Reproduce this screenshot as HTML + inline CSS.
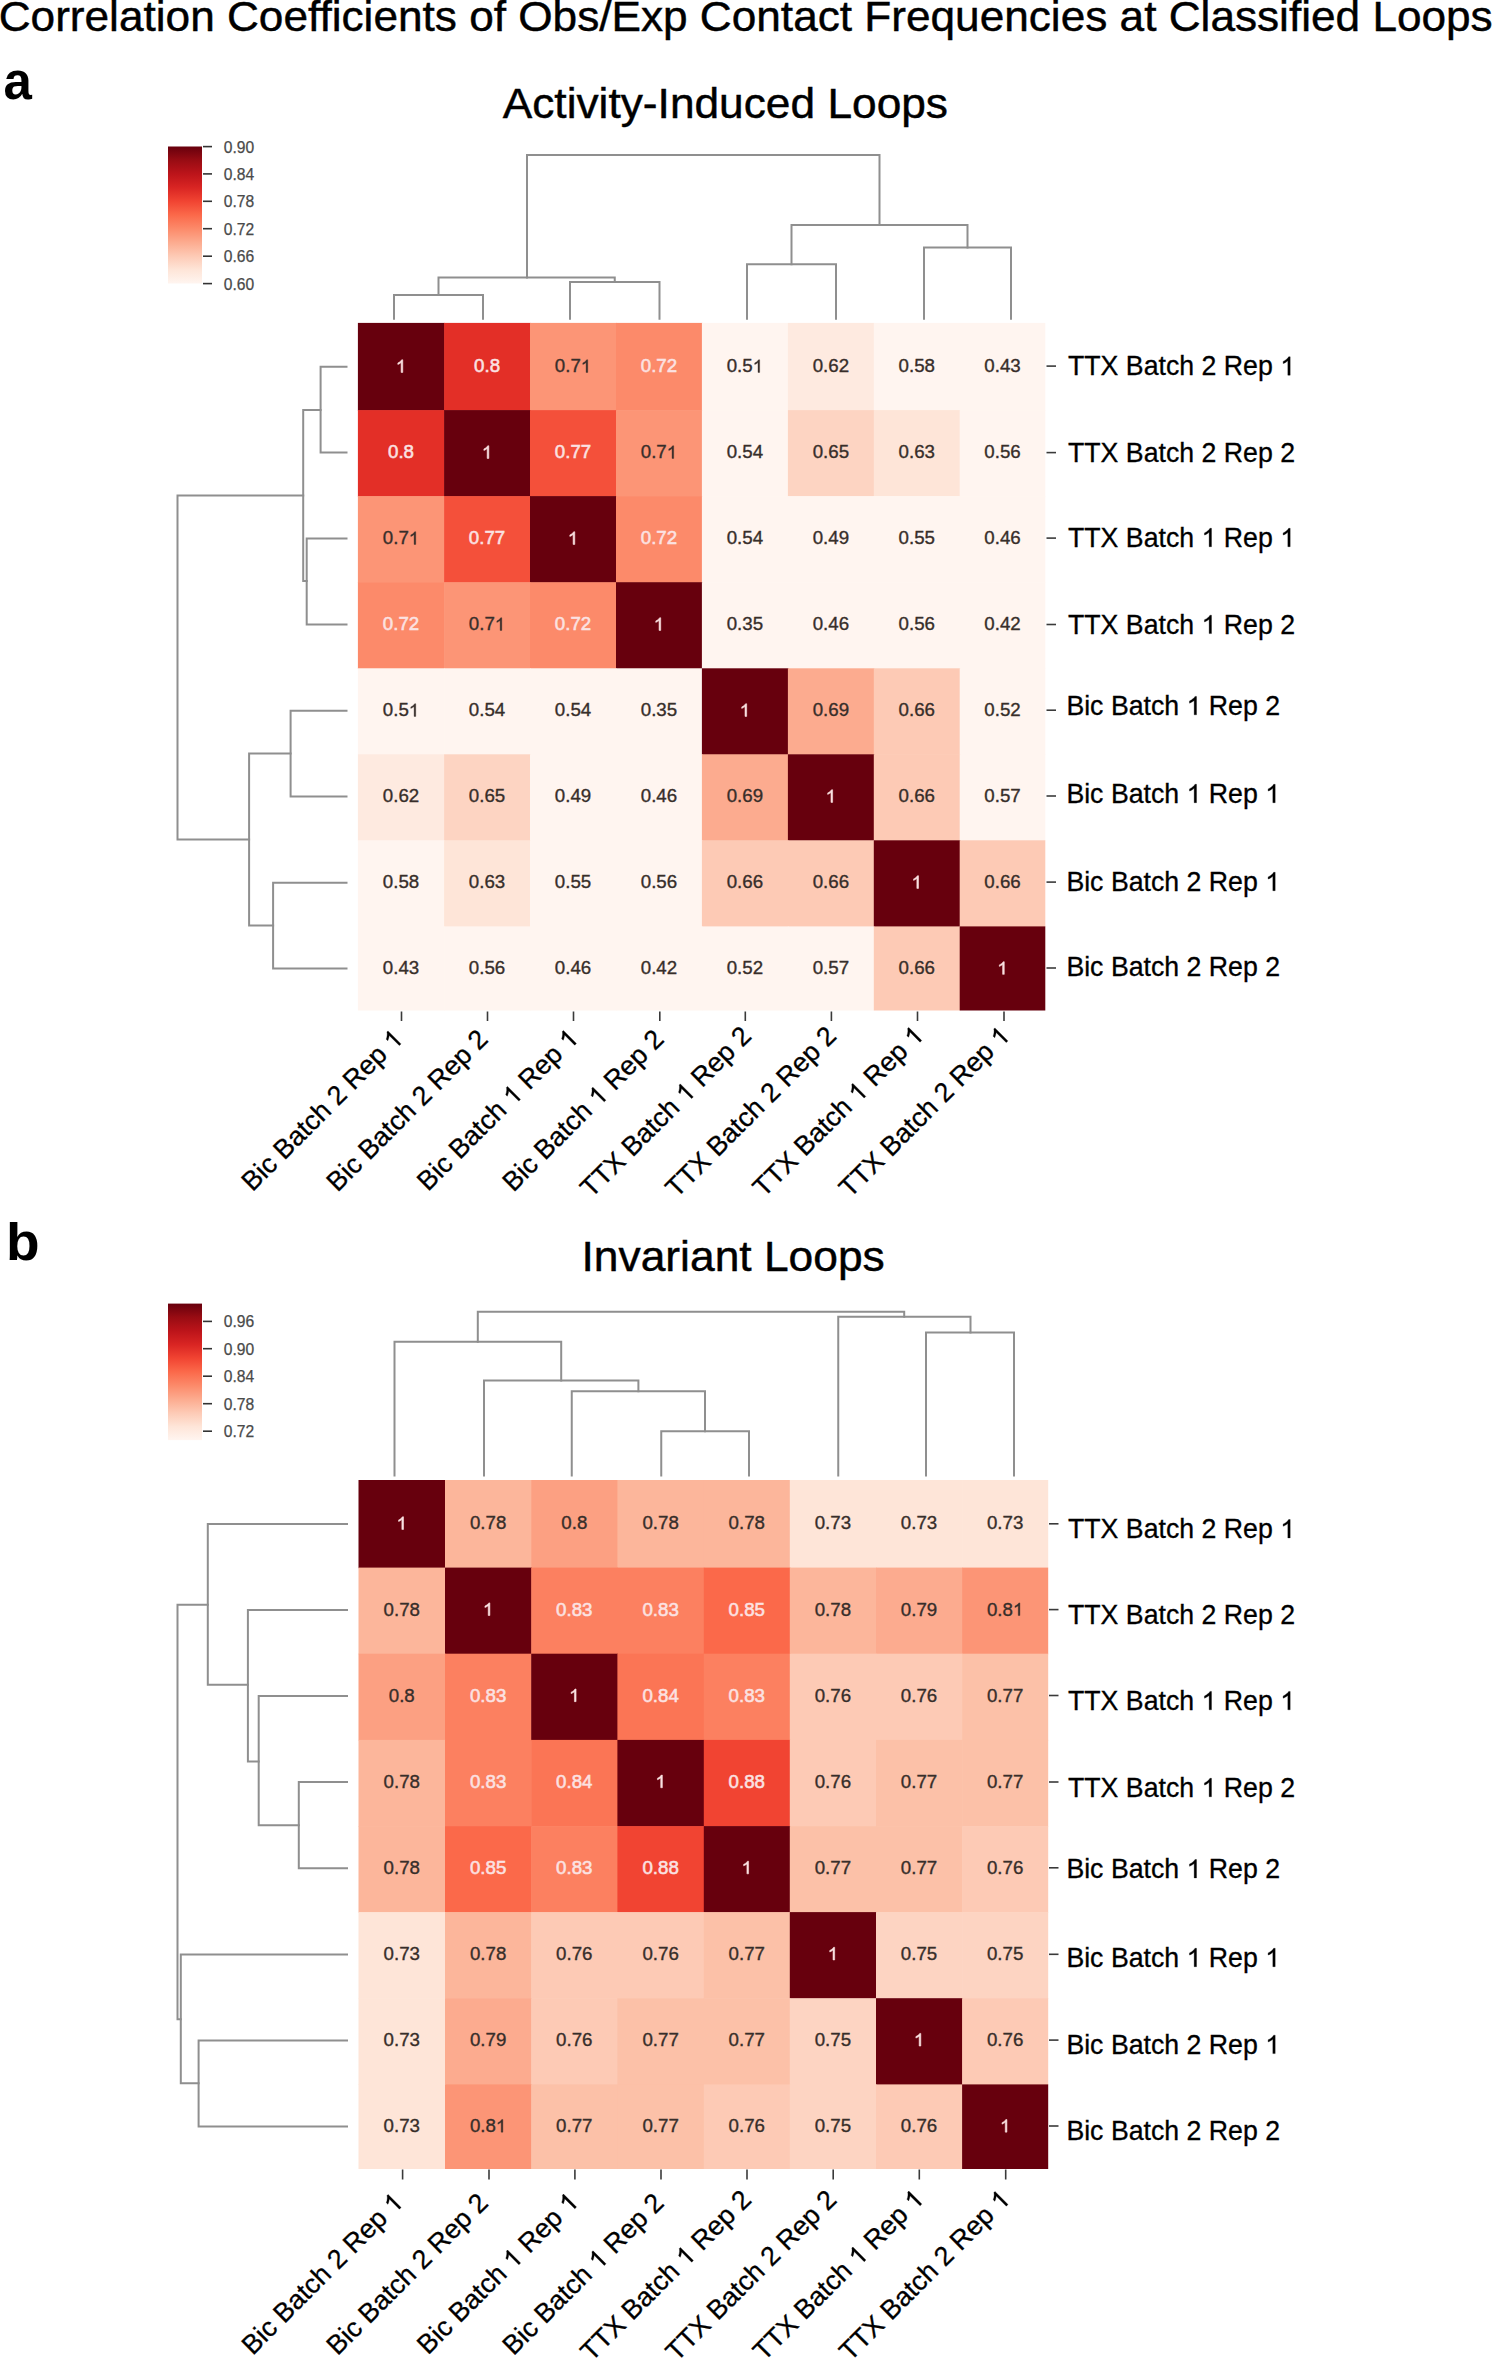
<!DOCTYPE html>
<html><head><meta charset="utf-8"><style>
html,body{margin:0;padding:0;background:#fff;overflow:hidden;width:1492px;height:2358px;}
svg{display:block;}
text{font-family:"Liberation Sans", sans-serif;}
</style></head><body>
<svg width="1492" height="2358" viewBox="0 0 1492 2358">
<rect x="0" y="0" width="1492" height="2358" fill="#fff"/>
<text x="-1.30" y="30.60" font-size="43.00" fill="#000" text-anchor="start" font-weight="normal" textLength="1494.0" lengthAdjust="spacingAndGlyphs" stroke="#000" stroke-width="0.45">Correlation Coefficients of Obs/Exp Contact Frequencies at Classified Loops</text>
<text x="3.50" y="98.70" font-size="51.00" fill="#000" text-anchor="start" font-weight="bold">a</text>
<text x="502.70" y="117.90" font-size="43.00" fill="#000" text-anchor="start" font-weight="normal" textLength="445.3" lengthAdjust="spacingAndGlyphs" stroke="#000" stroke-width="0.45">Activity-Induced Loops</text>
<rect x="357.90" y="322.90" width="86.80" height="87.80" fill="#67000d"/>
<rect x="444.10" y="322.90" width="86.50" height="87.80" fill="#e32f27"/>
<rect x="530.00" y="322.90" width="86.60" height="87.80" fill="#fc9576"/>
<rect x="616.00" y="322.90" width="86.50" height="87.80" fill="#fc8a6a"/>
<rect x="701.90" y="322.90" width="86.60" height="87.80" fill="#fff5f0"/>
<rect x="787.90" y="322.90" width="86.50" height="87.80" fill="#feeae0"/>
<rect x="873.80" y="322.90" width="86.50" height="87.80" fill="#fff5f0"/>
<rect x="959.70" y="322.90" width="85.60" height="87.80" fill="#fff5f0"/>
<rect x="357.90" y="410.10" width="86.80" height="86.60" fill="#e32f27"/>
<rect x="444.10" y="410.10" width="86.50" height="86.60" fill="#67000d"/>
<rect x="530.00" y="410.10" width="86.60" height="86.60" fill="#f4503a"/>
<rect x="616.00" y="410.10" width="86.50" height="86.60" fill="#fc9576"/>
<rect x="701.90" y="410.10" width="86.60" height="86.60" fill="#fff5f0"/>
<rect x="787.90" y="410.10" width="86.50" height="86.60" fill="#fdd4c2"/>
<rect x="873.80" y="410.10" width="86.50" height="86.60" fill="#fee5d8"/>
<rect x="959.70" y="410.10" width="85.60" height="86.60" fill="#fff5f0"/>
<rect x="357.90" y="496.10" width="86.80" height="86.70" fill="#fc9576"/>
<rect x="444.10" y="496.10" width="86.50" height="86.70" fill="#f4503a"/>
<rect x="530.00" y="496.10" width="86.60" height="86.70" fill="#67000d"/>
<rect x="616.00" y="496.10" width="86.50" height="86.70" fill="#fc8a6a"/>
<rect x="701.90" y="496.10" width="86.60" height="86.70" fill="#fff5f0"/>
<rect x="787.90" y="496.10" width="86.50" height="86.70" fill="#fff5f0"/>
<rect x="873.80" y="496.10" width="86.50" height="86.70" fill="#fff5f0"/>
<rect x="959.70" y="496.10" width="85.60" height="86.70" fill="#fff5f0"/>
<rect x="357.90" y="582.20" width="86.80" height="86.70" fill="#fc8a6a"/>
<rect x="444.10" y="582.20" width="86.50" height="86.70" fill="#fc9576"/>
<rect x="530.00" y="582.20" width="86.60" height="86.70" fill="#fc8a6a"/>
<rect x="616.00" y="582.20" width="86.50" height="86.70" fill="#67000d"/>
<rect x="701.90" y="582.20" width="86.60" height="86.70" fill="#fff5f0"/>
<rect x="787.90" y="582.20" width="86.50" height="86.70" fill="#fff5f0"/>
<rect x="873.80" y="582.20" width="86.50" height="86.70" fill="#fff5f0"/>
<rect x="959.70" y="582.20" width="85.60" height="86.70" fill="#fff5f0"/>
<rect x="357.90" y="668.30" width="86.80" height="86.60" fill="#fff5f0"/>
<rect x="444.10" y="668.30" width="86.50" height="86.60" fill="#fff5f0"/>
<rect x="530.00" y="668.30" width="86.60" height="86.60" fill="#fff5f0"/>
<rect x="616.00" y="668.30" width="86.50" height="86.60" fill="#fff5f0"/>
<rect x="701.90" y="668.30" width="86.60" height="86.60" fill="#67000d"/>
<rect x="787.90" y="668.30" width="86.50" height="86.60" fill="#fcab8f"/>
<rect x="873.80" y="668.30" width="86.50" height="86.60" fill="#fdcab5"/>
<rect x="959.70" y="668.30" width="85.60" height="86.60" fill="#fff5f0"/>
<rect x="357.90" y="754.30" width="86.80" height="86.60" fill="#feeae0"/>
<rect x="444.10" y="754.30" width="86.50" height="86.60" fill="#fdd4c2"/>
<rect x="530.00" y="754.30" width="86.60" height="86.60" fill="#fff5f0"/>
<rect x="616.00" y="754.30" width="86.50" height="86.60" fill="#fff5f0"/>
<rect x="701.90" y="754.30" width="86.60" height="86.60" fill="#fcab8f"/>
<rect x="787.90" y="754.30" width="86.50" height="86.60" fill="#67000d"/>
<rect x="873.80" y="754.30" width="86.50" height="86.60" fill="#fdcab5"/>
<rect x="959.70" y="754.30" width="85.60" height="86.60" fill="#fff5f0"/>
<rect x="357.90" y="840.30" width="86.80" height="86.70" fill="#fff5f0"/>
<rect x="444.10" y="840.30" width="86.50" height="86.70" fill="#fee5d8"/>
<rect x="530.00" y="840.30" width="86.60" height="86.70" fill="#fff5f0"/>
<rect x="616.00" y="840.30" width="86.50" height="86.70" fill="#fff5f0"/>
<rect x="701.90" y="840.30" width="86.60" height="86.70" fill="#fdcab5"/>
<rect x="787.90" y="840.30" width="86.50" height="86.70" fill="#fdcab5"/>
<rect x="873.80" y="840.30" width="86.50" height="86.70" fill="#67000d"/>
<rect x="959.70" y="840.30" width="85.60" height="86.70" fill="#fdcab5"/>
<rect x="357.90" y="926.40" width="86.80" height="84.10" fill="#fff5f0"/>
<rect x="444.10" y="926.40" width="86.50" height="84.10" fill="#fff5f0"/>
<rect x="530.00" y="926.40" width="86.60" height="84.10" fill="#fff5f0"/>
<rect x="616.00" y="926.40" width="86.50" height="84.10" fill="#fff5f0"/>
<rect x="701.90" y="926.40" width="86.60" height="84.10" fill="#fff5f0"/>
<rect x="787.90" y="926.40" width="86.50" height="84.10" fill="#fff5f0"/>
<rect x="873.80" y="926.40" width="86.50" height="84.10" fill="#fdcab5"/>
<rect x="959.70" y="926.40" width="85.60" height="84.10" fill="#67000d"/>
<g>
<text x="401.00" y="372.44" font-size="18.70" fill="#fbe2e2" text-anchor="middle" font-weight="normal" id="o0" stroke="#fbe2e2" stroke-width="0.55"> </text>
<path d="M763 0L583 0L583 1147Q518 1085 412 1023Q306 961 223 930L223 1104Q373 1175 486 1276Q599 1377 646 1472L763 1472Z" fill="#fbe2e2" transform="translate(395.80 372.44) scale(0.00913 -0.00859)" stroke="#fbe2e2" stroke-width="64.0"/>
</g>
<text x="487.05" y="372.44" font-size="18.70" fill="#fbe2e2" text-anchor="middle" font-weight="normal" stroke="#fbe2e2" stroke-width="0.55">0.8</text>
<g>
<text x="573.00" y="372.44" font-size="18.70" fill="#372e2a" text-anchor="middle" font-weight="normal" id="o1" stroke="#372e2a" stroke-width="0.35">0.7 </text>
<path d="M763 0L583 0L583 1147Q518 1085 412 1023Q306 961 223 930L223 1104Q373 1175 486 1276Q599 1377 646 1472L763 1472Z" fill="#372e2a" transform="translate(580.78 372.44) scale(0.00913 -0.00859)" stroke="#372e2a" stroke-width="40.7"/>
</g>
<text x="658.95" y="372.44" font-size="18.70" fill="#fbe2e2" text-anchor="middle" font-weight="normal" stroke="#fbe2e2" stroke-width="0.55">0.72</text>
<g>
<text x="744.90" y="372.44" font-size="18.70" fill="#372e2a" text-anchor="middle" font-weight="normal" id="o2" stroke="#372e2a" stroke-width="0.35">0.5 </text>
<path d="M763 0L583 0L583 1147Q518 1085 412 1023Q306 961 223 930L223 1104Q373 1175 486 1276Q599 1377 646 1472L763 1472Z" fill="#372e2a" transform="translate(752.68 372.44) scale(0.00913 -0.00859)" stroke="#372e2a" stroke-width="40.7"/>
</g>
<text x="830.85" y="372.44" font-size="18.70" fill="#372e2a" text-anchor="middle" font-weight="normal" stroke="#372e2a" stroke-width="0.35">0.62</text>
<text x="916.75" y="372.44" font-size="18.70" fill="#372e2a" text-anchor="middle" font-weight="normal" stroke="#372e2a" stroke-width="0.35">0.58</text>
<text x="1002.50" y="372.44" font-size="18.70" fill="#372e2a" text-anchor="middle" font-weight="normal" stroke="#372e2a" stroke-width="0.35">0.43</text>
<text x="401.00" y="458.43" font-size="18.70" fill="#fbe2e2" text-anchor="middle" font-weight="normal" stroke="#fbe2e2" stroke-width="0.55">0.8</text>
<g>
<text x="487.05" y="458.43" font-size="18.70" fill="#fbe2e2" text-anchor="middle" font-weight="normal" id="o3" stroke="#fbe2e2" stroke-width="0.55"> </text>
<path d="M763 0L583 0L583 1147Q518 1085 412 1023Q306 961 223 930L223 1104Q373 1175 486 1276Q599 1377 646 1472L763 1472Z" fill="#fbe2e2" transform="translate(481.85 458.43) scale(0.00913 -0.00859)" stroke="#fbe2e2" stroke-width="64.0"/>
</g>
<text x="573.00" y="458.43" font-size="18.70" fill="#fbe2e2" text-anchor="middle" font-weight="normal" stroke="#fbe2e2" stroke-width="0.55">0.77</text>
<g>
<text x="658.95" y="458.43" font-size="18.70" fill="#372e2a" text-anchor="middle" font-weight="normal" id="o4" stroke="#372e2a" stroke-width="0.35">0.7 </text>
<path d="M763 0L583 0L583 1147Q518 1085 412 1023Q306 961 223 930L223 1104Q373 1175 486 1276Q599 1377 646 1472L763 1472Z" fill="#372e2a" transform="translate(666.73 458.43) scale(0.00913 -0.00859)" stroke="#372e2a" stroke-width="40.7"/>
</g>
<text x="744.90" y="458.43" font-size="18.70" fill="#372e2a" text-anchor="middle" font-weight="normal" stroke="#372e2a" stroke-width="0.35">0.54</text>
<text x="830.85" y="458.43" font-size="18.70" fill="#372e2a" text-anchor="middle" font-weight="normal" stroke="#372e2a" stroke-width="0.35">0.65</text>
<text x="916.75" y="458.43" font-size="18.70" fill="#372e2a" text-anchor="middle" font-weight="normal" stroke="#372e2a" stroke-width="0.35">0.63</text>
<text x="1002.50" y="458.43" font-size="18.70" fill="#372e2a" text-anchor="middle" font-weight="normal" stroke="#372e2a" stroke-width="0.35">0.56</text>
<g>
<text x="401.00" y="544.42" font-size="18.70" fill="#372e2a" text-anchor="middle" font-weight="normal" id="o5" stroke="#372e2a" stroke-width="0.35">0.7 </text>
<path d="M763 0L583 0L583 1147Q518 1085 412 1023Q306 961 223 930L223 1104Q373 1175 486 1276Q599 1377 646 1472L763 1472Z" fill="#372e2a" transform="translate(408.78 544.42) scale(0.00913 -0.00859)" stroke="#372e2a" stroke-width="40.7"/>
</g>
<text x="487.05" y="544.42" font-size="18.70" fill="#fbe2e2" text-anchor="middle" font-weight="normal" stroke="#fbe2e2" stroke-width="0.55">0.77</text>
<g>
<text x="573.00" y="544.42" font-size="18.70" fill="#fbe2e2" text-anchor="middle" font-weight="normal" id="o6" stroke="#fbe2e2" stroke-width="0.55"> </text>
<path d="M763 0L583 0L583 1147Q518 1085 412 1023Q306 961 223 930L223 1104Q373 1175 486 1276Q599 1377 646 1472L763 1472Z" fill="#fbe2e2" transform="translate(567.80 544.42) scale(0.00913 -0.00859)" stroke="#fbe2e2" stroke-width="64.0"/>
</g>
<text x="658.95" y="544.42" font-size="18.70" fill="#fbe2e2" text-anchor="middle" font-weight="normal" stroke="#fbe2e2" stroke-width="0.55">0.72</text>
<text x="744.90" y="544.42" font-size="18.70" fill="#372e2a" text-anchor="middle" font-weight="normal" stroke="#372e2a" stroke-width="0.35">0.54</text>
<text x="830.85" y="544.42" font-size="18.70" fill="#372e2a" text-anchor="middle" font-weight="normal" stroke="#372e2a" stroke-width="0.35">0.49</text>
<text x="916.75" y="544.42" font-size="18.70" fill="#372e2a" text-anchor="middle" font-weight="normal" stroke="#372e2a" stroke-width="0.35">0.55</text>
<text x="1002.50" y="544.42" font-size="18.70" fill="#372e2a" text-anchor="middle" font-weight="normal" stroke="#372e2a" stroke-width="0.35">0.46</text>
<text x="401.00" y="630.41" font-size="18.70" fill="#fbe2e2" text-anchor="middle" font-weight="normal" stroke="#fbe2e2" stroke-width="0.55">0.72</text>
<g>
<text x="487.05" y="630.41" font-size="18.70" fill="#372e2a" text-anchor="middle" font-weight="normal" id="o7" stroke="#372e2a" stroke-width="0.35">0.7 </text>
<path d="M763 0L583 0L583 1147Q518 1085 412 1023Q306 961 223 930L223 1104Q373 1175 486 1276Q599 1377 646 1472L763 1472Z" fill="#372e2a" transform="translate(494.83 630.41) scale(0.00913 -0.00859)" stroke="#372e2a" stroke-width="40.7"/>
</g>
<text x="573.00" y="630.41" font-size="18.70" fill="#fbe2e2" text-anchor="middle" font-weight="normal" stroke="#fbe2e2" stroke-width="0.55">0.72</text>
<g>
<text x="658.95" y="630.41" font-size="18.70" fill="#fbe2e2" text-anchor="middle" font-weight="normal" id="o8" stroke="#fbe2e2" stroke-width="0.55"> </text>
<path d="M763 0L583 0L583 1147Q518 1085 412 1023Q306 961 223 930L223 1104Q373 1175 486 1276Q599 1377 646 1472L763 1472Z" fill="#fbe2e2" transform="translate(653.75 630.41) scale(0.00913 -0.00859)" stroke="#fbe2e2" stroke-width="64.0"/>
</g>
<text x="744.90" y="630.41" font-size="18.70" fill="#372e2a" text-anchor="middle" font-weight="normal" stroke="#372e2a" stroke-width="0.35">0.35</text>
<text x="830.85" y="630.41" font-size="18.70" fill="#372e2a" text-anchor="middle" font-weight="normal" stroke="#372e2a" stroke-width="0.35">0.46</text>
<text x="916.75" y="630.41" font-size="18.70" fill="#372e2a" text-anchor="middle" font-weight="normal" stroke="#372e2a" stroke-width="0.35">0.56</text>
<text x="1002.50" y="630.41" font-size="18.70" fill="#372e2a" text-anchor="middle" font-weight="normal" stroke="#372e2a" stroke-width="0.35">0.42</text>
<g>
<text x="401.00" y="716.40" font-size="18.70" fill="#372e2a" text-anchor="middle" font-weight="normal" id="o9" stroke="#372e2a" stroke-width="0.35">0.5 </text>
<path d="M763 0L583 0L583 1147Q518 1085 412 1023Q306 961 223 930L223 1104Q373 1175 486 1276Q599 1377 646 1472L763 1472Z" fill="#372e2a" transform="translate(408.78 716.40) scale(0.00913 -0.00859)" stroke="#372e2a" stroke-width="40.7"/>
</g>
<text x="487.05" y="716.40" font-size="18.70" fill="#372e2a" text-anchor="middle" font-weight="normal" stroke="#372e2a" stroke-width="0.35">0.54</text>
<text x="573.00" y="716.40" font-size="18.70" fill="#372e2a" text-anchor="middle" font-weight="normal" stroke="#372e2a" stroke-width="0.35">0.54</text>
<text x="658.95" y="716.40" font-size="18.70" fill="#372e2a" text-anchor="middle" font-weight="normal" stroke="#372e2a" stroke-width="0.35">0.35</text>
<g>
<text x="744.90" y="716.40" font-size="18.70" fill="#fbe2e2" text-anchor="middle" font-weight="normal" id="o10" stroke="#fbe2e2" stroke-width="0.55"> </text>
<path d="M763 0L583 0L583 1147Q518 1085 412 1023Q306 961 223 930L223 1104Q373 1175 486 1276Q599 1377 646 1472L763 1472Z" fill="#fbe2e2" transform="translate(739.70 716.40) scale(0.00913 -0.00859)" stroke="#fbe2e2" stroke-width="64.0"/>
</g>
<text x="830.85" y="716.40" font-size="18.70" fill="#372e2a" text-anchor="middle" font-weight="normal" stroke="#372e2a" stroke-width="0.35">0.69</text>
<text x="916.75" y="716.40" font-size="18.70" fill="#372e2a" text-anchor="middle" font-weight="normal" stroke="#372e2a" stroke-width="0.35">0.66</text>
<text x="1002.50" y="716.40" font-size="18.70" fill="#372e2a" text-anchor="middle" font-weight="normal" stroke="#372e2a" stroke-width="0.35">0.52</text>
<text x="401.00" y="802.39" font-size="18.70" fill="#372e2a" text-anchor="middle" font-weight="normal" stroke="#372e2a" stroke-width="0.35">0.62</text>
<text x="487.05" y="802.39" font-size="18.70" fill="#372e2a" text-anchor="middle" font-weight="normal" stroke="#372e2a" stroke-width="0.35">0.65</text>
<text x="573.00" y="802.39" font-size="18.70" fill="#372e2a" text-anchor="middle" font-weight="normal" stroke="#372e2a" stroke-width="0.35">0.49</text>
<text x="658.95" y="802.39" font-size="18.70" fill="#372e2a" text-anchor="middle" font-weight="normal" stroke="#372e2a" stroke-width="0.35">0.46</text>
<text x="744.90" y="802.39" font-size="18.70" fill="#372e2a" text-anchor="middle" font-weight="normal" stroke="#372e2a" stroke-width="0.35">0.69</text>
<g>
<text x="830.85" y="802.39" font-size="18.70" fill="#fbe2e2" text-anchor="middle" font-weight="normal" id="o11" stroke="#fbe2e2" stroke-width="0.55"> </text>
<path d="M763 0L583 0L583 1147Q518 1085 412 1023Q306 961 223 930L223 1104Q373 1175 486 1276Q599 1377 646 1472L763 1472Z" fill="#fbe2e2" transform="translate(825.65 802.39) scale(0.00913 -0.00859)" stroke="#fbe2e2" stroke-width="64.0"/>
</g>
<text x="916.75" y="802.39" font-size="18.70" fill="#372e2a" text-anchor="middle" font-weight="normal" stroke="#372e2a" stroke-width="0.35">0.66</text>
<text x="1002.50" y="802.39" font-size="18.70" fill="#372e2a" text-anchor="middle" font-weight="normal" stroke="#372e2a" stroke-width="0.35">0.57</text>
<text x="401.00" y="888.38" font-size="18.70" fill="#372e2a" text-anchor="middle" font-weight="normal" stroke="#372e2a" stroke-width="0.35">0.58</text>
<text x="487.05" y="888.38" font-size="18.70" fill="#372e2a" text-anchor="middle" font-weight="normal" stroke="#372e2a" stroke-width="0.35">0.63</text>
<text x="573.00" y="888.38" font-size="18.70" fill="#372e2a" text-anchor="middle" font-weight="normal" stroke="#372e2a" stroke-width="0.35">0.55</text>
<text x="658.95" y="888.38" font-size="18.70" fill="#372e2a" text-anchor="middle" font-weight="normal" stroke="#372e2a" stroke-width="0.35">0.56</text>
<text x="744.90" y="888.38" font-size="18.70" fill="#372e2a" text-anchor="middle" font-weight="normal" stroke="#372e2a" stroke-width="0.35">0.66</text>
<text x="830.85" y="888.38" font-size="18.70" fill="#372e2a" text-anchor="middle" font-weight="normal" stroke="#372e2a" stroke-width="0.35">0.66</text>
<g>
<text x="916.75" y="888.38" font-size="18.70" fill="#fbe2e2" text-anchor="middle" font-weight="normal" id="o12" stroke="#fbe2e2" stroke-width="0.55"> </text>
<path d="M763 0L583 0L583 1147Q518 1085 412 1023Q306 961 223 930L223 1104Q373 1175 486 1276Q599 1377 646 1472L763 1472Z" fill="#fbe2e2" transform="translate(911.55 888.38) scale(0.00913 -0.00859)" stroke="#fbe2e2" stroke-width="64.0"/>
</g>
<text x="1002.50" y="888.38" font-size="18.70" fill="#372e2a" text-anchor="middle" font-weight="normal" stroke="#372e2a" stroke-width="0.35">0.66</text>
<text x="401.00" y="974.37" font-size="18.70" fill="#372e2a" text-anchor="middle" font-weight="normal" stroke="#372e2a" stroke-width="0.35">0.43</text>
<text x="487.05" y="974.37" font-size="18.70" fill="#372e2a" text-anchor="middle" font-weight="normal" stroke="#372e2a" stroke-width="0.35">0.56</text>
<text x="573.00" y="974.37" font-size="18.70" fill="#372e2a" text-anchor="middle" font-weight="normal" stroke="#372e2a" stroke-width="0.35">0.46</text>
<text x="658.95" y="974.37" font-size="18.70" fill="#372e2a" text-anchor="middle" font-weight="normal" stroke="#372e2a" stroke-width="0.35">0.42</text>
<text x="744.90" y="974.37" font-size="18.70" fill="#372e2a" text-anchor="middle" font-weight="normal" stroke="#372e2a" stroke-width="0.35">0.52</text>
<text x="830.85" y="974.37" font-size="18.70" fill="#372e2a" text-anchor="middle" font-weight="normal" stroke="#372e2a" stroke-width="0.35">0.57</text>
<text x="916.75" y="974.37" font-size="18.70" fill="#372e2a" text-anchor="middle" font-weight="normal" stroke="#372e2a" stroke-width="0.35">0.66</text>
<g>
<text x="1002.50" y="974.37" font-size="18.70" fill="#fbe2e2" text-anchor="middle" font-weight="normal" id="o13" stroke="#fbe2e2" stroke-width="0.55"> </text>
<path d="M763 0L583 0L583 1147Q518 1085 412 1023Q306 961 223 930L223 1104Q373 1175 486 1276Q599 1377 646 1472L763 1472Z" fill="#fbe2e2" transform="translate(997.30 974.37) scale(0.00913 -0.00859)" stroke="#fbe2e2" stroke-width="64.0"/>
</g>
<defs><linearGradient id="ga" x1="0" y1="0" x2="0" y2="1"><stop offset="0.000" stop-color="#67000d"/><stop offset="0.100" stop-color="#980c13"/><stop offset="0.200" stop-color="#bc141a"/><stop offset="0.300" stop-color="#d92523"/><stop offset="0.400" stop-color="#f14432"/><stop offset="0.500" stop-color="#fb694a"/><stop offset="0.600" stop-color="#fc8a6a"/><stop offset="0.700" stop-color="#fcab8f"/><stop offset="0.800" stop-color="#fdcab5"/><stop offset="0.900" stop-color="#fee5d8"/><stop offset="1.000" stop-color="#fff5f0"/></linearGradient></defs>
<rect x="168.00" y="146.50" width="34.00" height="137.00" fill="url(#ga)"/>
<line x1="203.00" y1="146.60" x2="212.00" y2="146.60" stroke="#333" stroke-width="1.60"/>
<text x="223.80" y="152.60" font-size="16.90" fill="#4a4a4a" text-anchor="start" font-weight="normal" textLength="30.4" lengthAdjust="spacingAndGlyphs" stroke="#4a4a4a" stroke-width="0.25">0.90</text>
<line x1="203.00" y1="173.90" x2="212.00" y2="173.90" stroke="#333" stroke-width="1.60"/>
<text x="223.80" y="179.90" font-size="16.90" fill="#4a4a4a" text-anchor="start" font-weight="normal" textLength="30.4" lengthAdjust="spacingAndGlyphs" stroke="#4a4a4a" stroke-width="0.25">0.84</text>
<line x1="203.00" y1="201.30" x2="212.00" y2="201.30" stroke="#333" stroke-width="1.60"/>
<text x="223.80" y="207.30" font-size="16.90" fill="#4a4a4a" text-anchor="start" font-weight="normal" textLength="30.4" lengthAdjust="spacingAndGlyphs" stroke="#4a4a4a" stroke-width="0.25">0.78</text>
<line x1="203.00" y1="228.70" x2="212.00" y2="228.70" stroke="#333" stroke-width="1.60"/>
<text x="223.80" y="234.70" font-size="16.90" fill="#4a4a4a" text-anchor="start" font-weight="normal" textLength="30.4" lengthAdjust="spacingAndGlyphs" stroke="#4a4a4a" stroke-width="0.25">0.72</text>
<line x1="203.00" y1="256.20" x2="212.00" y2="256.20" stroke="#333" stroke-width="1.60"/>
<text x="223.80" y="262.20" font-size="16.90" fill="#4a4a4a" text-anchor="start" font-weight="normal" textLength="30.4" lengthAdjust="spacingAndGlyphs" stroke="#4a4a4a" stroke-width="0.25">0.66</text>
<line x1="203.00" y1="283.60" x2="212.00" y2="283.60" stroke="#333" stroke-width="1.60"/>
<text x="223.80" y="289.60" font-size="16.90" fill="#4a4a4a" text-anchor="start" font-weight="normal" textLength="30.4" lengthAdjust="spacingAndGlyphs" stroke="#4a4a4a" stroke-width="0.25">0.60</text>
<polyline points="394.00,318.75 394.00,295.00 483.00,295.00 483.00,318.75" fill="none" stroke="#8f8f8f" stroke-width="2.00" stroke-linejoin="miter" stroke-linecap="square"/>
<polyline points="570.00,318.75 570.00,282.00 659.50,282.00 659.50,318.75" fill="none" stroke="#8f8f8f" stroke-width="2.00" stroke-linejoin="miter" stroke-linecap="square"/>
<polyline points="438.50,295.00 438.50,277.50 614.75,277.50 614.75,282.00" fill="none" stroke="#8f8f8f" stroke-width="2.00" stroke-linejoin="miter" stroke-linecap="square"/>
<polyline points="747.00,318.75 747.00,264.25 836.00,264.25 836.00,318.75" fill="none" stroke="#8f8f8f" stroke-width="2.00" stroke-linejoin="miter" stroke-linecap="square"/>
<polyline points="924.00,318.75 924.00,247.50 1011.00,247.50 1011.00,318.75" fill="none" stroke="#8f8f8f" stroke-width="2.00" stroke-linejoin="miter" stroke-linecap="square"/>
<polyline points="791.50,264.25 791.50,225.00 967.50,225.00 967.50,247.50" fill="none" stroke="#8f8f8f" stroke-width="2.00" stroke-linejoin="miter" stroke-linecap="square"/>
<polyline points="527.00,277.50 527.00,155.00 879.50,155.00 879.50,225.00" fill="none" stroke="#8f8f8f" stroke-width="2.00" stroke-linejoin="miter" stroke-linecap="square"/>
<polyline points="346.50,366.70 320.60,366.70 320.60,452.60 346.50,452.60" fill="none" stroke="#8f8f8f" stroke-width="2.00" stroke-linejoin="miter" stroke-linecap="square"/>
<polyline points="346.50,538.50 306.70,538.50 306.70,624.60 346.50,624.60" fill="none" stroke="#8f8f8f" stroke-width="2.00" stroke-linejoin="miter" stroke-linecap="square"/>
<polyline points="320.60,409.90 303.20,409.90 303.20,580.90 306.70,580.90" fill="none" stroke="#8f8f8f" stroke-width="2.00" stroke-linejoin="miter" stroke-linecap="square"/>
<polyline points="346.50,710.80 290.60,710.80 290.60,796.60 346.50,796.60" fill="none" stroke="#8f8f8f" stroke-width="2.00" stroke-linejoin="miter" stroke-linecap="square"/>
<polyline points="346.50,882.70 273.10,882.70 273.10,968.40 346.50,968.40" fill="none" stroke="#8f8f8f" stroke-width="2.00" stroke-linejoin="miter" stroke-linecap="square"/>
<polyline points="290.60,753.60 249.10,753.60 249.10,925.50 273.10,925.50" fill="none" stroke="#8f8f8f" stroke-width="2.00" stroke-linejoin="miter" stroke-linecap="square"/>
<polyline points="303.20,495.50 177.50,495.50 177.50,839.60 249.10,839.60" fill="none" stroke="#8f8f8f" stroke-width="2.00" stroke-linejoin="miter" stroke-linecap="square"/>
<line x1="1046.50" y1="366.10" x2="1056.00" y2="366.10" stroke="#3a3a3a" stroke-width="1.60"/>
<g>
<text x="1067.99" y="375.20" font-size="26.90" fill="#000" text-anchor="start" font-weight="normal" textLength="227.1" lengthAdjust="spacingAndGlyphs" id="o14" stroke="#000" stroke-width="0.3">TTX Batch 2 Rep  </text>
<path d="M763 0L583 0L583 1147Q518 1085 412 1023Q306 961 223 930L223 1104Q373 1175 486 1276Q599 1377 646 1472L763 1472Z" fill="#000" transform="translate(1280.23 375.20) scale(0.01304 -0.01250)" stroke="#000" stroke-width="24.0"/>
</g>
<line x1="1046.50" y1="452.60" x2="1056.00" y2="452.60" stroke="#3a3a3a" stroke-width="1.60"/>
<text x="1067.99" y="461.70" font-size="26.90" fill="#000" text-anchor="start" font-weight="normal" textLength="227.1" lengthAdjust="spacingAndGlyphs" stroke="#000" stroke-width="0.3">TTX Batch 2 Rep 2</text>
<line x1="1046.50" y1="538.10" x2="1056.00" y2="538.10" stroke="#3a3a3a" stroke-width="1.60"/>
<g>
<text x="1067.99" y="546.70" font-size="26.90" fill="#000" text-anchor="start" font-weight="normal" textLength="227.1" lengthAdjust="spacingAndGlyphs" id="o15" stroke="#000" stroke-width="0.3">TTX Batch   Rep  </text>
<path d="M763 0L583 0L583 1147Q518 1085 412 1023Q306 961 223 930L223 1104Q373 1175 486 1276Q599 1377 646 1472L763 1472Z" fill="#000" transform="translate(1201.54 546.70) scale(0.01304 -0.01250)" stroke="#000" stroke-width="24.0"/><path d="M763 0L583 0L583 1147Q518 1085 412 1023Q306 961 223 930L223 1104Q373 1175 486 1276Q599 1377 646 1472L763 1472Z" fill="#000" transform="translate(1280.23 546.70) scale(0.01304 -0.01250)" stroke="#000" stroke-width="24.0"/>
</g>
<line x1="1046.50" y1="624.50" x2="1056.00" y2="624.50" stroke="#3a3a3a" stroke-width="1.60"/>
<g>
<text x="1067.99" y="633.60" font-size="26.90" fill="#000" text-anchor="start" font-weight="normal" textLength="227.1" lengthAdjust="spacingAndGlyphs" id="o16" stroke="#000" stroke-width="0.3">TTX Batch   Rep 2</text>
<path d="M763 0L583 0L583 1147Q518 1085 412 1023Q306 961 223 930L223 1104Q373 1175 486 1276Q599 1377 646 1472L763 1472Z" fill="#000" transform="translate(1201.54 633.60) scale(0.01304 -0.01250)" stroke="#000" stroke-width="24.0"/>
</g>
<line x1="1046.50" y1="710.20" x2="1056.00" y2="710.20" stroke="#3a3a3a" stroke-width="1.60"/>
<g>
<text x="1066.39" y="714.80" font-size="26.90" fill="#000" text-anchor="start" font-weight="normal" textLength="213.7" lengthAdjust="spacingAndGlyphs" id="o17" stroke="#000" stroke-width="0.3">Bic Batch   Rep 2</text>
<path d="M763 0L583 0L583 1147Q518 1085 412 1023Q306 961 223 930L223 1104Q373 1175 486 1276Q599 1377 646 1472L763 1472Z" fill="#000" transform="translate(1186.57 714.80) scale(0.01304 -0.01250)" stroke="#000" stroke-width="24.0"/>
</g>
<line x1="1046.50" y1="796.00" x2="1056.00" y2="796.00" stroke="#3a3a3a" stroke-width="1.60"/>
<g>
<text x="1066.39" y="802.70" font-size="26.90" fill="#000" text-anchor="start" font-weight="normal" textLength="213.7" lengthAdjust="spacingAndGlyphs" id="o18" stroke="#000" stroke-width="0.3">Bic Batch   Rep  </text>
<path d="M763 0L583 0L583 1147Q518 1085 412 1023Q306 961 223 930L223 1104Q373 1175 486 1276Q599 1377 646 1472L763 1472Z" fill="#000" transform="translate(1186.57 802.70) scale(0.01304 -0.01250)" stroke="#000" stroke-width="24.0"/><path d="M763 0L583 0L583 1147Q518 1085 412 1023Q306 961 223 930L223 1104Q373 1175 486 1276Q599 1377 646 1472L763 1472Z" fill="#000" transform="translate(1265.23 802.70) scale(0.01304 -0.01250)" stroke="#000" stroke-width="24.0"/>
</g>
<line x1="1046.50" y1="882.10" x2="1056.00" y2="882.10" stroke="#3a3a3a" stroke-width="1.60"/>
<g>
<text x="1066.39" y="890.70" font-size="26.90" fill="#000" text-anchor="start" font-weight="normal" textLength="213.7" lengthAdjust="spacingAndGlyphs" id="o19" stroke="#000" stroke-width="0.3">Bic Batch 2 Rep  </text>
<path d="M763 0L583 0L583 1147Q518 1085 412 1023Q306 961 223 930L223 1104Q373 1175 486 1276Q599 1377 646 1472L763 1472Z" fill="#000" transform="translate(1265.23 890.70) scale(0.01304 -0.01250)" stroke="#000" stroke-width="24.0"/>
</g>
<line x1="1046.50" y1="968.00" x2="1056.00" y2="968.00" stroke="#3a3a3a" stroke-width="1.60"/>
<text x="1066.39" y="975.60" font-size="26.90" fill="#000" text-anchor="start" font-weight="normal" textLength="213.7" lengthAdjust="spacingAndGlyphs" stroke="#000" stroke-width="0.3">Bic Batch 2 Rep 2</text>
<line x1="401.50" y1="1011.50" x2="401.50" y2="1021.00" stroke="#3a3a3a" stroke-width="1.60"/>
<g transform="translate(404.50 1040.40) rotate(-45)">
<text x="0.00" y="0.00" font-size="26.90" fill="#000" text-anchor="end" font-weight="normal" textLength="214.8" lengthAdjust="spacingAndGlyphs" id="o20" stroke="#000" stroke-width="0.3">Bic Batch 2 Rep  </text>
<path d="M763 0L583 0L583 1147Q518 1085 412 1023Q306 961 223 930L223 1104Q373 1175 486 1276Q599 1377 646 1472L763 1472Z" fill="#000" transform="translate(-14.94 0.00) scale(0.01310 -0.01250)" stroke="#000" stroke-width="24.0"/>
</g>
<line x1="487.50" y1="1011.50" x2="487.50" y2="1021.00" stroke="#3a3a3a" stroke-width="1.60"/>
<g transform="translate(489.40 1040.80) rotate(-45)">
<text x="0.00" y="0.00" font-size="26.90" fill="#000" text-anchor="end" font-weight="normal" textLength="214.8" lengthAdjust="spacingAndGlyphs" stroke="#000" stroke-width="0.3">Bic Batch 2 Rep 2</text>
</g>
<line x1="573.50" y1="1011.50" x2="573.50" y2="1021.00" stroke="#3a3a3a" stroke-width="1.60"/>
<g transform="translate(579.90 1040.00) rotate(-45)">
<text x="0.00" y="0.00" font-size="26.90" fill="#000" text-anchor="end" font-weight="normal" textLength="214.8" lengthAdjust="spacingAndGlyphs" id="o21" stroke="#000" stroke-width="0.3">Bic Batch   Rep  </text>
<path d="M763 0L583 0L583 1147Q518 1085 412 1023Q306 961 223 930L223 1104Q373 1175 486 1276Q599 1377 646 1472L763 1472Z" fill="#000" transform="translate(-94.01 0.00) scale(0.01310 -0.01250)" stroke="#000" stroke-width="24.0"/><path d="M763 0L583 0L583 1147Q518 1085 412 1023Q306 961 223 930L223 1104Q373 1175 486 1276Q599 1377 646 1472L763 1472Z" fill="#000" transform="translate(-14.94 0.00) scale(0.01310 -0.01250)" stroke="#000" stroke-width="24.0"/>
</g>
<line x1="659.80" y1="1011.50" x2="659.80" y2="1021.00" stroke="#3a3a3a" stroke-width="1.60"/>
<g transform="translate(665.30 1040.80) rotate(-45)">
<text x="0.00" y="0.00" font-size="26.90" fill="#000" text-anchor="end" font-weight="normal" textLength="214.8" lengthAdjust="spacingAndGlyphs" id="o22" stroke="#000" stroke-width="0.3">Bic Batch   Rep 2</text>
<path d="M763 0L583 0L583 1147Q518 1085 412 1023Q306 961 223 930L223 1104Q373 1175 486 1276Q599 1377 646 1472L763 1472Z" fill="#000" transform="translate(-94.01 0.00) scale(0.01310 -0.01250)" stroke="#000" stroke-width="24.0"/>
</g>
<line x1="745.30" y1="1011.50" x2="745.30" y2="1021.00" stroke="#3a3a3a" stroke-width="1.60"/>
<g transform="translate(752.70 1037.50) rotate(-45)">
<text x="0.00" y="0.00" font-size="26.90" fill="#000" text-anchor="end" font-weight="normal" textLength="228.2" lengthAdjust="spacingAndGlyphs" id="o23" stroke="#000" stroke-width="0.3">TTX Batch   Rep 2</text>
<path d="M763 0L583 0L583 1147Q518 1085 412 1023Q306 961 223 930L223 1104Q373 1175 486 1276Q599 1377 646 1472L763 1472Z" fill="#000" transform="translate(-94.00 0.00) scale(0.01310 -0.01250)" stroke="#000" stroke-width="24.0"/>
</g>
<line x1="831.40" y1="1011.50" x2="831.40" y2="1021.00" stroke="#3a3a3a" stroke-width="1.60"/>
<g transform="translate(837.90 1037.50) rotate(-45)">
<text x="0.00" y="0.00" font-size="26.90" fill="#000" text-anchor="end" font-weight="normal" textLength="228.2" lengthAdjust="spacingAndGlyphs" stroke="#000" stroke-width="0.3">TTX Batch 2 Rep 2</text>
</g>
<line x1="917.50" y1="1011.50" x2="917.50" y2="1021.00" stroke="#3a3a3a" stroke-width="1.60"/>
<g transform="translate(925.20 1037.00) rotate(-45)">
<text x="0.00" y="0.00" font-size="26.90" fill="#000" text-anchor="end" font-weight="normal" textLength="228.2" lengthAdjust="spacingAndGlyphs" id="o24" stroke="#000" stroke-width="0.3">TTX Batch   Rep  </text>
<path d="M763 0L583 0L583 1147Q518 1085 412 1023Q306 961 223 930L223 1104Q373 1175 486 1276Q599 1377 646 1472L763 1472Z" fill="#000" transform="translate(-94.00 0.00) scale(0.01310 -0.01250)" stroke="#000" stroke-width="24.0"/><path d="M763 0L583 0L583 1147Q518 1085 412 1023Q306 961 223 930L223 1104Q373 1175 486 1276Q599 1377 646 1472L763 1472Z" fill="#000" transform="translate(-14.94 0.00) scale(0.01310 -0.01250)" stroke="#000" stroke-width="24.0"/>
</g>
<line x1="1004.00" y1="1011.50" x2="1004.00" y2="1021.00" stroke="#3a3a3a" stroke-width="1.60"/>
<g transform="translate(1011.40 1037.40) rotate(-45)">
<text x="0.00" y="0.00" font-size="26.90" fill="#000" text-anchor="end" font-weight="normal" textLength="228.2" lengthAdjust="spacingAndGlyphs" id="o25" stroke="#000" stroke-width="0.3">TTX Batch 2 Rep  </text>
<path d="M763 0L583 0L583 1147Q518 1085 412 1023Q306 961 223 930L223 1104Q373 1175 486 1276Q599 1377 646 1472L763 1472Z" fill="#000" transform="translate(-14.94 0.00) scale(0.01310 -0.01250)" stroke="#000" stroke-width="24.0"/>
</g>
<text x="6.00" y="1260.00" font-size="51.00" fill="#000" text-anchor="start" font-weight="bold" textLength="33.6" lengthAdjust="spacingAndGlyphs">b</text>
<text x="581.50" y="1270.90" font-size="43.00" fill="#000" text-anchor="start" font-weight="normal" textLength="303.3" lengthAdjust="spacingAndGlyphs" stroke="#000" stroke-width="0.45">Invariant Loops</text>
<rect x="358.50" y="1480.00" width="87.10" height="88.20" fill="#67000d"/>
<rect x="445.00" y="1480.00" width="86.80" height="88.20" fill="#fcb69b"/>
<rect x="531.20" y="1480.00" width="86.80" height="88.20" fill="#fca082"/>
<rect x="617.40" y="1480.00" width="87.00" height="88.20" fill="#fcb69b"/>
<rect x="703.80" y="1480.00" width="86.60" height="88.20" fill="#fcb69b"/>
<rect x="789.80" y="1480.00" width="86.80" height="88.20" fill="#fee5d8"/>
<rect x="876.00" y="1480.00" width="86.70" height="88.20" fill="#fee5d8"/>
<rect x="962.10" y="1480.00" width="86.10" height="88.20" fill="#fee5d8"/>
<rect x="358.50" y="1567.60" width="87.10" height="86.70" fill="#fcb69b"/>
<rect x="445.00" y="1567.60" width="86.80" height="86.70" fill="#67000d"/>
<rect x="531.20" y="1567.60" width="86.80" height="86.70" fill="#fc8060"/>
<rect x="617.40" y="1567.60" width="87.00" height="86.70" fill="#fc8060"/>
<rect x="703.80" y="1567.60" width="86.60" height="86.70" fill="#fb694a"/>
<rect x="789.80" y="1567.60" width="86.80" height="86.70" fill="#fcb69b"/>
<rect x="876.00" y="1567.60" width="86.70" height="86.70" fill="#fcab8f"/>
<rect x="962.10" y="1567.60" width="86.10" height="86.70" fill="#fc9576"/>
<rect x="358.50" y="1653.70" width="87.10" height="86.80" fill="#fca082"/>
<rect x="445.00" y="1653.70" width="86.80" height="86.80" fill="#fc8060"/>
<rect x="531.20" y="1653.70" width="86.80" height="86.80" fill="#67000d"/>
<rect x="617.40" y="1653.70" width="87.00" height="86.80" fill="#fb7555"/>
<rect x="703.80" y="1653.70" width="86.60" height="86.80" fill="#fc8060"/>
<rect x="789.80" y="1653.70" width="86.80" height="86.80" fill="#fdcab5"/>
<rect x="876.00" y="1653.70" width="86.70" height="86.80" fill="#fdcab5"/>
<rect x="962.10" y="1653.70" width="86.10" height="86.80" fill="#fcc1a8"/>
<rect x="358.50" y="1739.90" width="87.10" height="86.80" fill="#fcb69b"/>
<rect x="445.00" y="1739.90" width="86.80" height="86.80" fill="#fc8060"/>
<rect x="531.20" y="1739.90" width="86.80" height="86.80" fill="#fb7555"/>
<rect x="617.40" y="1739.90" width="87.00" height="86.80" fill="#67000d"/>
<rect x="703.80" y="1739.90" width="86.60" height="86.80" fill="#f14432"/>
<rect x="789.80" y="1739.90" width="86.80" height="86.80" fill="#fdcab5"/>
<rect x="876.00" y="1739.90" width="86.70" height="86.80" fill="#fcc1a8"/>
<rect x="962.10" y="1739.90" width="86.10" height="86.80" fill="#fcc1a8"/>
<rect x="358.50" y="1826.10" width="87.10" height="86.60" fill="#fcb69b"/>
<rect x="445.00" y="1826.10" width="86.80" height="86.60" fill="#fb694a"/>
<rect x="531.20" y="1826.10" width="86.80" height="86.60" fill="#fc8060"/>
<rect x="617.40" y="1826.10" width="87.00" height="86.60" fill="#f14432"/>
<rect x="703.80" y="1826.10" width="86.60" height="86.60" fill="#67000d"/>
<rect x="789.80" y="1826.10" width="86.80" height="86.60" fill="#fcc1a8"/>
<rect x="876.00" y="1826.10" width="86.70" height="86.60" fill="#fcc1a8"/>
<rect x="962.10" y="1826.10" width="86.10" height="86.60" fill="#fdcab5"/>
<rect x="358.50" y="1912.10" width="87.10" height="86.70" fill="#fee5d8"/>
<rect x="445.00" y="1912.10" width="86.80" height="86.70" fill="#fcb69b"/>
<rect x="531.20" y="1912.10" width="86.80" height="86.70" fill="#fdcab5"/>
<rect x="617.40" y="1912.10" width="87.00" height="86.70" fill="#fdcab5"/>
<rect x="703.80" y="1912.10" width="86.60" height="86.70" fill="#fcc1a8"/>
<rect x="789.80" y="1912.10" width="86.80" height="86.70" fill="#67000d"/>
<rect x="876.00" y="1912.10" width="86.70" height="86.70" fill="#fdd4c2"/>
<rect x="962.10" y="1912.10" width="86.10" height="86.70" fill="#fdd4c2"/>
<rect x="358.50" y="1998.20" width="87.10" height="86.80" fill="#fee5d8"/>
<rect x="445.00" y="1998.20" width="86.80" height="86.80" fill="#fcab8f"/>
<rect x="531.20" y="1998.20" width="86.80" height="86.80" fill="#fdcab5"/>
<rect x="617.40" y="1998.20" width="87.00" height="86.80" fill="#fcc1a8"/>
<rect x="703.80" y="1998.20" width="86.60" height="86.80" fill="#fcc1a8"/>
<rect x="789.80" y="1998.20" width="86.80" height="86.80" fill="#fdd4c2"/>
<rect x="876.00" y="1998.20" width="86.70" height="86.80" fill="#67000d"/>
<rect x="962.10" y="1998.20" width="86.10" height="86.80" fill="#fdcab5"/>
<rect x="358.50" y="2084.40" width="87.10" height="84.60" fill="#fee5d8"/>
<rect x="445.00" y="2084.40" width="86.80" height="84.60" fill="#fc9576"/>
<rect x="531.20" y="2084.40" width="86.80" height="84.60" fill="#fcc1a8"/>
<rect x="617.40" y="2084.40" width="87.00" height="84.60" fill="#fcc1a8"/>
<rect x="703.80" y="2084.40" width="86.60" height="84.60" fill="#fdcab5"/>
<rect x="789.80" y="2084.40" width="86.80" height="84.60" fill="#fdd4c2"/>
<rect x="876.00" y="2084.40" width="86.70" height="84.60" fill="#fdcab5"/>
<rect x="962.10" y="2084.40" width="86.10" height="84.60" fill="#67000d"/>
<g>
<text x="401.75" y="1529.44" font-size="18.70" fill="#fbe2e2" text-anchor="middle" font-weight="normal" id="o26" stroke="#fbe2e2" stroke-width="0.55"> </text>
<path d="M763 0L583 0L583 1147Q518 1085 412 1023Q306 961 223 930L223 1104Q373 1175 486 1276Q599 1377 646 1472L763 1472Z" fill="#fbe2e2" transform="translate(396.55 1529.44) scale(0.00913 -0.00859)" stroke="#fbe2e2" stroke-width="64.0"/>
</g>
<text x="488.10" y="1529.44" font-size="18.70" fill="#372e2a" text-anchor="middle" font-weight="normal" stroke="#372e2a" stroke-width="0.35">0.78</text>
<text x="574.30" y="1529.44" font-size="18.70" fill="#372e2a" text-anchor="middle" font-weight="normal" stroke="#372e2a" stroke-width="0.35">0.8</text>
<text x="660.60" y="1529.44" font-size="18.70" fill="#372e2a" text-anchor="middle" font-weight="normal" stroke="#372e2a" stroke-width="0.35">0.78</text>
<text x="746.80" y="1529.44" font-size="18.70" fill="#372e2a" text-anchor="middle" font-weight="normal" stroke="#372e2a" stroke-width="0.35">0.78</text>
<text x="832.90" y="1529.44" font-size="18.70" fill="#372e2a" text-anchor="middle" font-weight="normal" stroke="#372e2a" stroke-width="0.35">0.73</text>
<text x="919.05" y="1529.44" font-size="18.70" fill="#372e2a" text-anchor="middle" font-weight="normal" stroke="#372e2a" stroke-width="0.35">0.73</text>
<text x="1005.15" y="1529.44" font-size="18.70" fill="#372e2a" text-anchor="middle" font-weight="normal" stroke="#372e2a" stroke-width="0.35">0.73</text>
<text x="401.75" y="1615.54" font-size="18.70" fill="#372e2a" text-anchor="middle" font-weight="normal" stroke="#372e2a" stroke-width="0.35">0.78</text>
<g>
<text x="488.10" y="1615.54" font-size="18.70" fill="#fbe2e2" text-anchor="middle" font-weight="normal" id="o27" stroke="#fbe2e2" stroke-width="0.55"> </text>
<path d="M763 0L583 0L583 1147Q518 1085 412 1023Q306 961 223 930L223 1104Q373 1175 486 1276Q599 1377 646 1472L763 1472Z" fill="#fbe2e2" transform="translate(482.90 1615.54) scale(0.00913 -0.00859)" stroke="#fbe2e2" stroke-width="64.0"/>
</g>
<text x="574.30" y="1615.54" font-size="18.70" fill="#fbe2e2" text-anchor="middle" font-weight="normal" stroke="#fbe2e2" stroke-width="0.55">0.83</text>
<text x="660.60" y="1615.54" font-size="18.70" fill="#fbe2e2" text-anchor="middle" font-weight="normal" stroke="#fbe2e2" stroke-width="0.55">0.83</text>
<text x="746.80" y="1615.54" font-size="18.70" fill="#fbe2e2" text-anchor="middle" font-weight="normal" stroke="#fbe2e2" stroke-width="0.55">0.85</text>
<text x="832.90" y="1615.54" font-size="18.70" fill="#372e2a" text-anchor="middle" font-weight="normal" stroke="#372e2a" stroke-width="0.35">0.78</text>
<text x="919.05" y="1615.54" font-size="18.70" fill="#372e2a" text-anchor="middle" font-weight="normal" stroke="#372e2a" stroke-width="0.35">0.79</text>
<g>
<text x="1005.15" y="1615.54" font-size="18.70" fill="#372e2a" text-anchor="middle" font-weight="normal" id="o28" stroke="#372e2a" stroke-width="0.35">0.8 </text>
<path d="M763 0L583 0L583 1147Q518 1085 412 1023Q306 961 223 930L223 1104Q373 1175 486 1276Q599 1377 646 1472L763 1472Z" fill="#372e2a" transform="translate(1012.93 1615.54) scale(0.00913 -0.00859)" stroke="#372e2a" stroke-width="40.7"/>
</g>
<text x="401.75" y="1701.64" font-size="18.70" fill="#372e2a" text-anchor="middle" font-weight="normal" stroke="#372e2a" stroke-width="0.35">0.8</text>
<text x="488.10" y="1701.64" font-size="18.70" fill="#fbe2e2" text-anchor="middle" font-weight="normal" stroke="#fbe2e2" stroke-width="0.55">0.83</text>
<g>
<text x="574.30" y="1701.64" font-size="18.70" fill="#fbe2e2" text-anchor="middle" font-weight="normal" id="o29" stroke="#fbe2e2" stroke-width="0.55"> </text>
<path d="M763 0L583 0L583 1147Q518 1085 412 1023Q306 961 223 930L223 1104Q373 1175 486 1276Q599 1377 646 1472L763 1472Z" fill="#fbe2e2" transform="translate(569.10 1701.64) scale(0.00913 -0.00859)" stroke="#fbe2e2" stroke-width="64.0"/>
</g>
<text x="660.60" y="1701.64" font-size="18.70" fill="#fbe2e2" text-anchor="middle" font-weight="normal" stroke="#fbe2e2" stroke-width="0.55">0.84</text>
<text x="746.80" y="1701.64" font-size="18.70" fill="#fbe2e2" text-anchor="middle" font-weight="normal" stroke="#fbe2e2" stroke-width="0.55">0.83</text>
<text x="832.90" y="1701.64" font-size="18.70" fill="#372e2a" text-anchor="middle" font-weight="normal" stroke="#372e2a" stroke-width="0.35">0.76</text>
<text x="919.05" y="1701.64" font-size="18.70" fill="#372e2a" text-anchor="middle" font-weight="normal" stroke="#372e2a" stroke-width="0.35">0.76</text>
<text x="1005.15" y="1701.64" font-size="18.70" fill="#372e2a" text-anchor="middle" font-weight="normal" stroke="#372e2a" stroke-width="0.35">0.77</text>
<text x="401.75" y="1787.74" font-size="18.70" fill="#372e2a" text-anchor="middle" font-weight="normal" stroke="#372e2a" stroke-width="0.35">0.78</text>
<text x="488.10" y="1787.74" font-size="18.70" fill="#fbe2e2" text-anchor="middle" font-weight="normal" stroke="#fbe2e2" stroke-width="0.55">0.83</text>
<text x="574.30" y="1787.74" font-size="18.70" fill="#fbe2e2" text-anchor="middle" font-weight="normal" stroke="#fbe2e2" stroke-width="0.55">0.84</text>
<g>
<text x="660.60" y="1787.74" font-size="18.70" fill="#fbe2e2" text-anchor="middle" font-weight="normal" id="o30" stroke="#fbe2e2" stroke-width="0.55"> </text>
<path d="M763 0L583 0L583 1147Q518 1085 412 1023Q306 961 223 930L223 1104Q373 1175 486 1276Q599 1377 646 1472L763 1472Z" fill="#fbe2e2" transform="translate(655.40 1787.74) scale(0.00913 -0.00859)" stroke="#fbe2e2" stroke-width="64.0"/>
</g>
<text x="746.80" y="1787.74" font-size="18.70" fill="#fbe2e2" text-anchor="middle" font-weight="normal" stroke="#fbe2e2" stroke-width="0.55">0.88</text>
<text x="832.90" y="1787.74" font-size="18.70" fill="#372e2a" text-anchor="middle" font-weight="normal" stroke="#372e2a" stroke-width="0.35">0.76</text>
<text x="919.05" y="1787.74" font-size="18.70" fill="#372e2a" text-anchor="middle" font-weight="normal" stroke="#372e2a" stroke-width="0.35">0.77</text>
<text x="1005.15" y="1787.74" font-size="18.70" fill="#372e2a" text-anchor="middle" font-weight="normal" stroke="#372e2a" stroke-width="0.35">0.77</text>
<text x="401.75" y="1873.84" font-size="18.70" fill="#372e2a" text-anchor="middle" font-weight="normal" stroke="#372e2a" stroke-width="0.35">0.78</text>
<text x="488.10" y="1873.84" font-size="18.70" fill="#fbe2e2" text-anchor="middle" font-weight="normal" stroke="#fbe2e2" stroke-width="0.55">0.85</text>
<text x="574.30" y="1873.84" font-size="18.70" fill="#fbe2e2" text-anchor="middle" font-weight="normal" stroke="#fbe2e2" stroke-width="0.55">0.83</text>
<text x="660.60" y="1873.84" font-size="18.70" fill="#fbe2e2" text-anchor="middle" font-weight="normal" stroke="#fbe2e2" stroke-width="0.55">0.88</text>
<g>
<text x="746.80" y="1873.84" font-size="18.70" fill="#fbe2e2" text-anchor="middle" font-weight="normal" id="o31" stroke="#fbe2e2" stroke-width="0.55"> </text>
<path d="M763 0L583 0L583 1147Q518 1085 412 1023Q306 961 223 930L223 1104Q373 1175 486 1276Q599 1377 646 1472L763 1472Z" fill="#fbe2e2" transform="translate(741.60 1873.84) scale(0.00913 -0.00859)" stroke="#fbe2e2" stroke-width="64.0"/>
</g>
<text x="832.90" y="1873.84" font-size="18.70" fill="#372e2a" text-anchor="middle" font-weight="normal" stroke="#372e2a" stroke-width="0.35">0.77</text>
<text x="919.05" y="1873.84" font-size="18.70" fill="#372e2a" text-anchor="middle" font-weight="normal" stroke="#372e2a" stroke-width="0.35">0.77</text>
<text x="1005.15" y="1873.84" font-size="18.70" fill="#372e2a" text-anchor="middle" font-weight="normal" stroke="#372e2a" stroke-width="0.35">0.76</text>
<text x="401.75" y="1959.94" font-size="18.70" fill="#372e2a" text-anchor="middle" font-weight="normal" stroke="#372e2a" stroke-width="0.35">0.73</text>
<text x="488.10" y="1959.94" font-size="18.70" fill="#372e2a" text-anchor="middle" font-weight="normal" stroke="#372e2a" stroke-width="0.35">0.78</text>
<text x="574.30" y="1959.94" font-size="18.70" fill="#372e2a" text-anchor="middle" font-weight="normal" stroke="#372e2a" stroke-width="0.35">0.76</text>
<text x="660.60" y="1959.94" font-size="18.70" fill="#372e2a" text-anchor="middle" font-weight="normal" stroke="#372e2a" stroke-width="0.35">0.76</text>
<text x="746.80" y="1959.94" font-size="18.70" fill="#372e2a" text-anchor="middle" font-weight="normal" stroke="#372e2a" stroke-width="0.35">0.77</text>
<g>
<text x="832.90" y="1959.94" font-size="18.70" fill="#fbe2e2" text-anchor="middle" font-weight="normal" id="o32" stroke="#fbe2e2" stroke-width="0.55"> </text>
<path d="M763 0L583 0L583 1147Q518 1085 412 1023Q306 961 223 930L223 1104Q373 1175 486 1276Q599 1377 646 1472L763 1472Z" fill="#fbe2e2" transform="translate(827.70 1959.94) scale(0.00913 -0.00859)" stroke="#fbe2e2" stroke-width="64.0"/>
</g>
<text x="919.05" y="1959.94" font-size="18.70" fill="#372e2a" text-anchor="middle" font-weight="normal" stroke="#372e2a" stroke-width="0.35">0.75</text>
<text x="1005.15" y="1959.94" font-size="18.70" fill="#372e2a" text-anchor="middle" font-weight="normal" stroke="#372e2a" stroke-width="0.35">0.75</text>
<text x="401.75" y="2046.04" font-size="18.70" fill="#372e2a" text-anchor="middle" font-weight="normal" stroke="#372e2a" stroke-width="0.35">0.73</text>
<text x="488.10" y="2046.04" font-size="18.70" fill="#372e2a" text-anchor="middle" font-weight="normal" stroke="#372e2a" stroke-width="0.35">0.79</text>
<text x="574.30" y="2046.04" font-size="18.70" fill="#372e2a" text-anchor="middle" font-weight="normal" stroke="#372e2a" stroke-width="0.35">0.76</text>
<text x="660.60" y="2046.04" font-size="18.70" fill="#372e2a" text-anchor="middle" font-weight="normal" stroke="#372e2a" stroke-width="0.35">0.77</text>
<text x="746.80" y="2046.04" font-size="18.70" fill="#372e2a" text-anchor="middle" font-weight="normal" stroke="#372e2a" stroke-width="0.35">0.77</text>
<text x="832.90" y="2046.04" font-size="18.70" fill="#372e2a" text-anchor="middle" font-weight="normal" stroke="#372e2a" stroke-width="0.35">0.75</text>
<g>
<text x="919.05" y="2046.04" font-size="18.70" fill="#fbe2e2" text-anchor="middle" font-weight="normal" id="o33" stroke="#fbe2e2" stroke-width="0.55"> </text>
<path d="M763 0L583 0L583 1147Q518 1085 412 1023Q306 961 223 930L223 1104Q373 1175 486 1276Q599 1377 646 1472L763 1472Z" fill="#fbe2e2" transform="translate(913.85 2046.04) scale(0.00913 -0.00859)" stroke="#fbe2e2" stroke-width="64.0"/>
</g>
<text x="1005.15" y="2046.04" font-size="18.70" fill="#372e2a" text-anchor="middle" font-weight="normal" stroke="#372e2a" stroke-width="0.35">0.76</text>
<text x="401.75" y="2132.14" font-size="18.70" fill="#372e2a" text-anchor="middle" font-weight="normal" stroke="#372e2a" stroke-width="0.35">0.73</text>
<g>
<text x="488.10" y="2132.14" font-size="18.70" fill="#372e2a" text-anchor="middle" font-weight="normal" id="o34" stroke="#372e2a" stroke-width="0.35">0.8 </text>
<path d="M763 0L583 0L583 1147Q518 1085 412 1023Q306 961 223 930L223 1104Q373 1175 486 1276Q599 1377 646 1472L763 1472Z" fill="#372e2a" transform="translate(495.88 2132.14) scale(0.00913 -0.00859)" stroke="#372e2a" stroke-width="40.7"/>
</g>
<text x="574.30" y="2132.14" font-size="18.70" fill="#372e2a" text-anchor="middle" font-weight="normal" stroke="#372e2a" stroke-width="0.35">0.77</text>
<text x="660.60" y="2132.14" font-size="18.70" fill="#372e2a" text-anchor="middle" font-weight="normal" stroke="#372e2a" stroke-width="0.35">0.77</text>
<text x="746.80" y="2132.14" font-size="18.70" fill="#372e2a" text-anchor="middle" font-weight="normal" stroke="#372e2a" stroke-width="0.35">0.76</text>
<text x="832.90" y="2132.14" font-size="18.70" fill="#372e2a" text-anchor="middle" font-weight="normal" stroke="#372e2a" stroke-width="0.35">0.75</text>
<text x="919.05" y="2132.14" font-size="18.70" fill="#372e2a" text-anchor="middle" font-weight="normal" stroke="#372e2a" stroke-width="0.35">0.76</text>
<g>
<text x="1005.15" y="2132.14" font-size="18.70" fill="#fbe2e2" text-anchor="middle" font-weight="normal" id="o35" stroke="#fbe2e2" stroke-width="0.55"> </text>
<path d="M763 0L583 0L583 1147Q518 1085 412 1023Q306 961 223 930L223 1104Q373 1175 486 1276Q599 1377 646 1472L763 1472Z" fill="#fbe2e2" transform="translate(999.95 2132.14) scale(0.00913 -0.00859)" stroke="#fbe2e2" stroke-width="64.0"/>
</g>
<defs><linearGradient id="gb" x1="0" y1="0" x2="0" y2="1"><stop offset="0.000" stop-color="#67000d"/><stop offset="0.100" stop-color="#980c13"/><stop offset="0.200" stop-color="#bc141a"/><stop offset="0.300" stop-color="#d92523"/><stop offset="0.400" stop-color="#f14432"/><stop offset="0.500" stop-color="#fb694a"/><stop offset="0.600" stop-color="#fc8a6a"/><stop offset="0.700" stop-color="#fcab8f"/><stop offset="0.800" stop-color="#fdcab5"/><stop offset="0.900" stop-color="#fee5d8"/><stop offset="1.000" stop-color="#fff5f0"/></linearGradient></defs>
<rect x="168.00" y="1303.60" width="34.00" height="136.50" fill="url(#gb)"/>
<line x1="203.00" y1="1321.40" x2="212.00" y2="1321.40" stroke="#333" stroke-width="1.60"/>
<text x="223.80" y="1327.40" font-size="16.90" fill="#4a4a4a" text-anchor="start" font-weight="normal" textLength="30.4" lengthAdjust="spacingAndGlyphs" stroke="#4a4a4a" stroke-width="0.25">0.96</text>
<line x1="203.00" y1="1348.70" x2="212.00" y2="1348.70" stroke="#333" stroke-width="1.60"/>
<text x="223.80" y="1354.70" font-size="16.90" fill="#4a4a4a" text-anchor="start" font-weight="normal" textLength="30.4" lengthAdjust="spacingAndGlyphs" stroke="#4a4a4a" stroke-width="0.25">0.90</text>
<line x1="203.00" y1="1376.20" x2="212.00" y2="1376.20" stroke="#333" stroke-width="1.60"/>
<text x="223.80" y="1382.20" font-size="16.90" fill="#4a4a4a" text-anchor="start" font-weight="normal" textLength="30.4" lengthAdjust="spacingAndGlyphs" stroke="#4a4a4a" stroke-width="0.25">0.84</text>
<line x1="203.00" y1="1403.70" x2="212.00" y2="1403.70" stroke="#333" stroke-width="1.60"/>
<text x="223.80" y="1409.70" font-size="16.90" fill="#4a4a4a" text-anchor="start" font-weight="normal" textLength="30.4" lengthAdjust="spacingAndGlyphs" stroke="#4a4a4a" stroke-width="0.25">0.78</text>
<line x1="203.00" y1="1431.20" x2="212.00" y2="1431.20" stroke="#333" stroke-width="1.60"/>
<text x="223.80" y="1437.20" font-size="16.90" fill="#4a4a4a" text-anchor="start" font-weight="normal" textLength="30.4" lengthAdjust="spacingAndGlyphs" stroke="#4a4a4a" stroke-width="0.25">0.72</text>
<polyline points="661.25,1475.50 661.25,1431.25 749.00,1431.25 749.00,1475.50" fill="none" stroke="#8f8f8f" stroke-width="2.00" stroke-linejoin="miter" stroke-linecap="square"/>
<polyline points="571.75,1475.50 571.75,1391.25 705.00,1391.25 705.00,1431.25" fill="none" stroke="#8f8f8f" stroke-width="2.00" stroke-linejoin="miter" stroke-linecap="square"/>
<polyline points="484.00,1475.50 484.00,1380.50 638.40,1380.50 638.40,1391.25" fill="none" stroke="#8f8f8f" stroke-width="2.00" stroke-linejoin="miter" stroke-linecap="square"/>
<polyline points="394.50,1475.50 394.50,1341.75 561.20,1341.75 561.20,1380.50" fill="none" stroke="#8f8f8f" stroke-width="2.00" stroke-linejoin="miter" stroke-linecap="square"/>
<polyline points="926.00,1475.50 926.00,1332.50 1014.00,1332.50 1014.00,1475.50" fill="none" stroke="#8f8f8f" stroke-width="2.00" stroke-linejoin="miter" stroke-linecap="square"/>
<polyline points="838.25,1475.50 838.25,1316.75 970.50,1316.75 970.50,1332.50" fill="none" stroke="#8f8f8f" stroke-width="2.00" stroke-linejoin="miter" stroke-linecap="square"/>
<polyline points="477.80,1341.75 477.80,1311.75 904.20,1311.75 904.20,1316.75" fill="none" stroke="#8f8f8f" stroke-width="2.00" stroke-linejoin="miter" stroke-linecap="square"/>
<polyline points="347.00,1782.10 298.80,1782.10 298.80,1868.30 347.00,1868.30" fill="none" stroke="#8f8f8f" stroke-width="2.00" stroke-linejoin="miter" stroke-linecap="square"/>
<polyline points="347.00,1696.00 258.70,1696.00 258.70,1825.20 298.80,1825.20" fill="none" stroke="#8f8f8f" stroke-width="2.00" stroke-linejoin="miter" stroke-linecap="square"/>
<polyline points="347.00,1609.90 247.90,1609.90 247.90,1761.60 258.70,1761.60" fill="none" stroke="#8f8f8f" stroke-width="2.00" stroke-linejoin="miter" stroke-linecap="square"/>
<polyline points="347.00,1524.10 207.80,1524.10 207.80,1684.70 247.90,1684.70" fill="none" stroke="#8f8f8f" stroke-width="2.00" stroke-linejoin="miter" stroke-linecap="square"/>
<polyline points="347.00,2040.50 198.60,2040.50 198.60,2126.60 347.00,2126.60" fill="none" stroke="#8f8f8f" stroke-width="2.00" stroke-linejoin="miter" stroke-linecap="square"/>
<polyline points="347.00,1954.40 180.80,1954.40 180.80,2083.30 198.60,2083.30" fill="none" stroke="#8f8f8f" stroke-width="2.00" stroke-linejoin="miter" stroke-linecap="square"/>
<polyline points="207.80,1604.80 177.50,1604.80 177.50,2019.30 180.80,2019.30" fill="none" stroke="#8f8f8f" stroke-width="2.00" stroke-linejoin="miter" stroke-linecap="square"/>
<line x1="1049.00" y1="1523.80" x2="1058.50" y2="1523.80" stroke="#3a3a3a" stroke-width="1.60"/>
<g>
<text x="1067.99" y="1537.90" font-size="26.90" fill="#000" text-anchor="start" font-weight="normal" textLength="227.1" lengthAdjust="spacingAndGlyphs" id="o36" stroke="#000" stroke-width="0.3">TTX Batch 2 Rep  </text>
<path d="M763 0L583 0L583 1147Q518 1085 412 1023Q306 961 223 930L223 1104Q373 1175 486 1276Q599 1377 646 1472L763 1472Z" fill="#000" transform="translate(1280.23 1537.90) scale(0.01304 -0.01250)" stroke="#000" stroke-width="24.0"/>
</g>
<line x1="1049.00" y1="1609.60" x2="1058.50" y2="1609.60" stroke="#3a3a3a" stroke-width="1.60"/>
<text x="1067.99" y="1624.30" font-size="26.90" fill="#000" text-anchor="start" font-weight="normal" textLength="227.1" lengthAdjust="spacingAndGlyphs" stroke="#000" stroke-width="0.3">TTX Batch 2 Rep 2</text>
<line x1="1049.00" y1="1695.50" x2="1058.50" y2="1695.50" stroke="#3a3a3a" stroke-width="1.60"/>
<g>
<text x="1067.99" y="1709.80" font-size="26.90" fill="#000" text-anchor="start" font-weight="normal" textLength="227.1" lengthAdjust="spacingAndGlyphs" id="o37" stroke="#000" stroke-width="0.3">TTX Batch   Rep  </text>
<path d="M763 0L583 0L583 1147Q518 1085 412 1023Q306 961 223 930L223 1104Q373 1175 486 1276Q599 1377 646 1472L763 1472Z" fill="#000" transform="translate(1201.54 1709.80) scale(0.01304 -0.01250)" stroke="#000" stroke-width="24.0"/><path d="M763 0L583 0L583 1147Q518 1085 412 1023Q306 961 223 930L223 1104Q373 1175 486 1276Q599 1377 646 1472L763 1472Z" fill="#000" transform="translate(1280.23 1709.80) scale(0.01304 -0.01250)" stroke="#000" stroke-width="24.0"/>
</g>
<line x1="1049.00" y1="1782.00" x2="1058.50" y2="1782.00" stroke="#3a3a3a" stroke-width="1.60"/>
<g>
<text x="1067.99" y="1796.70" font-size="26.90" fill="#000" text-anchor="start" font-weight="normal" textLength="227.1" lengthAdjust="spacingAndGlyphs" id="o38" stroke="#000" stroke-width="0.3">TTX Batch   Rep 2</text>
<path d="M763 0L583 0L583 1147Q518 1085 412 1023Q306 961 223 930L223 1104Q373 1175 486 1276Q599 1377 646 1472L763 1472Z" fill="#000" transform="translate(1201.54 1796.70) scale(0.01304 -0.01250)" stroke="#000" stroke-width="24.0"/>
</g>
<line x1="1049.00" y1="1867.80" x2="1058.50" y2="1867.80" stroke="#3a3a3a" stroke-width="1.60"/>
<g>
<text x="1066.39" y="1877.90" font-size="26.90" fill="#000" text-anchor="start" font-weight="normal" textLength="213.7" lengthAdjust="spacingAndGlyphs" id="o39" stroke="#000" stroke-width="0.3">Bic Batch   Rep 2</text>
<path d="M763 0L583 0L583 1147Q518 1085 412 1023Q306 961 223 930L223 1104Q373 1175 486 1276Q599 1377 646 1472L763 1472Z" fill="#000" transform="translate(1186.57 1877.90) scale(0.01304 -0.01250)" stroke="#000" stroke-width="24.0"/>
</g>
<line x1="1049.00" y1="1954.30" x2="1058.50" y2="1954.30" stroke="#3a3a3a" stroke-width="1.60"/>
<g>
<text x="1066.39" y="1966.70" font-size="26.90" fill="#000" text-anchor="start" font-weight="normal" textLength="213.7" lengthAdjust="spacingAndGlyphs" id="o40" stroke="#000" stroke-width="0.3">Bic Batch   Rep  </text>
<path d="M763 0L583 0L583 1147Q518 1085 412 1023Q306 961 223 930L223 1104Q373 1175 486 1276Q599 1377 646 1472L763 1472Z" fill="#000" transform="translate(1186.57 1966.70) scale(0.01304 -0.01250)" stroke="#000" stroke-width="24.0"/><path d="M763 0L583 0L583 1147Q518 1085 412 1023Q306 961 223 930L223 1104Q373 1175 486 1276Q599 1377 646 1472L763 1472Z" fill="#000" transform="translate(1265.23 1966.70) scale(0.01304 -0.01250)" stroke="#000" stroke-width="24.0"/>
</g>
<line x1="1049.00" y1="2040.10" x2="1058.50" y2="2040.10" stroke="#3a3a3a" stroke-width="1.60"/>
<g>
<text x="1066.39" y="2053.60" font-size="26.90" fill="#000" text-anchor="start" font-weight="normal" textLength="213.7" lengthAdjust="spacingAndGlyphs" id="o41" stroke="#000" stroke-width="0.3">Bic Batch 2 Rep  </text>
<path d="M763 0L583 0L583 1147Q518 1085 412 1023Q306 961 223 930L223 1104Q373 1175 486 1276Q599 1377 646 1472L763 1472Z" fill="#000" transform="translate(1265.23 2053.60) scale(0.01304 -0.01250)" stroke="#000" stroke-width="24.0"/>
</g>
<line x1="1049.00" y1="2126.00" x2="1058.50" y2="2126.00" stroke="#3a3a3a" stroke-width="1.60"/>
<text x="1066.39" y="2139.70" font-size="26.90" fill="#000" text-anchor="start" font-weight="normal" textLength="213.7" lengthAdjust="spacingAndGlyphs" stroke="#000" stroke-width="0.3">Bic Batch 2 Rep 2</text>
<line x1="402.60" y1="2169.50" x2="402.60" y2="2179.50" stroke="#3a3a3a" stroke-width="1.60"/>
<g transform="translate(404.60 2204.00) rotate(-45)">
<text x="0.00" y="0.00" font-size="26.90" fill="#000" text-anchor="end" font-weight="normal" textLength="214.8" lengthAdjust="spacingAndGlyphs" id="o42" stroke="#000" stroke-width="0.3">Bic Batch 2 Rep  </text>
<path d="M763 0L583 0L583 1147Q518 1085 412 1023Q306 961 223 930L223 1104Q373 1175 486 1276Q599 1377 646 1472L763 1472Z" fill="#000" transform="translate(-14.94 0.00) scale(0.01310 -0.01250)" stroke="#000" stroke-width="24.0"/>
</g>
<line x1="489.00" y1="2169.50" x2="489.00" y2="2179.50" stroke="#3a3a3a" stroke-width="1.60"/>
<g transform="translate(489.50 2204.40) rotate(-45)">
<text x="0.00" y="0.00" font-size="26.90" fill="#000" text-anchor="end" font-weight="normal" textLength="214.8" lengthAdjust="spacingAndGlyphs" stroke="#000" stroke-width="0.3">Bic Batch 2 Rep 2</text>
</g>
<line x1="574.90" y1="2169.50" x2="574.90" y2="2179.50" stroke="#3a3a3a" stroke-width="1.60"/>
<g transform="translate(580.00 2203.60) rotate(-45)">
<text x="0.00" y="0.00" font-size="26.90" fill="#000" text-anchor="end" font-weight="normal" textLength="214.8" lengthAdjust="spacingAndGlyphs" id="o43" stroke="#000" stroke-width="0.3">Bic Batch   Rep  </text>
<path d="M763 0L583 0L583 1147Q518 1085 412 1023Q306 961 223 930L223 1104Q373 1175 486 1276Q599 1377 646 1472L763 1472Z" fill="#000" transform="translate(-94.01 0.00) scale(0.01310 -0.01250)" stroke="#000" stroke-width="24.0"/><path d="M763 0L583 0L583 1147Q518 1085 412 1023Q306 961 223 930L223 1104Q373 1175 486 1276Q599 1377 646 1472L763 1472Z" fill="#000" transform="translate(-14.94 0.00) scale(0.01310 -0.01250)" stroke="#000" stroke-width="24.0"/>
</g>
<line x1="661.00" y1="2169.50" x2="661.00" y2="2179.50" stroke="#3a3a3a" stroke-width="1.60"/>
<g transform="translate(665.40 2204.40) rotate(-45)">
<text x="0.00" y="0.00" font-size="26.90" fill="#000" text-anchor="end" font-weight="normal" textLength="214.8" lengthAdjust="spacingAndGlyphs" id="o44" stroke="#000" stroke-width="0.3">Bic Batch   Rep 2</text>
<path d="M763 0L583 0L583 1147Q518 1085 412 1023Q306 961 223 930L223 1104Q373 1175 486 1276Q599 1377 646 1472L763 1472Z" fill="#000" transform="translate(-94.01 0.00) scale(0.01310 -0.01250)" stroke="#000" stroke-width="24.0"/>
</g>
<line x1="747.00" y1="2169.50" x2="747.00" y2="2179.50" stroke="#3a3a3a" stroke-width="1.60"/>
<g transform="translate(752.80 2201.10) rotate(-45)">
<text x="0.00" y="0.00" font-size="26.90" fill="#000" text-anchor="end" font-weight="normal" textLength="228.2" lengthAdjust="spacingAndGlyphs" id="o45" stroke="#000" stroke-width="0.3">TTX Batch   Rep 2</text>
<path d="M763 0L583 0L583 1147Q518 1085 412 1023Q306 961 223 930L223 1104Q373 1175 486 1276Q599 1377 646 1472L763 1472Z" fill="#000" transform="translate(-94.00 0.00) scale(0.01310 -0.01250)" stroke="#000" stroke-width="24.0"/>
</g>
<line x1="833.20" y1="2169.50" x2="833.20" y2="2179.50" stroke="#3a3a3a" stroke-width="1.60"/>
<g transform="translate(838.00 2201.10) rotate(-45)">
<text x="0.00" y="0.00" font-size="26.90" fill="#000" text-anchor="end" font-weight="normal" textLength="228.2" lengthAdjust="spacingAndGlyphs" stroke="#000" stroke-width="0.3">TTX Batch 2 Rep 2</text>
</g>
<line x1="919.30" y1="2169.50" x2="919.30" y2="2179.50" stroke="#3a3a3a" stroke-width="1.60"/>
<g transform="translate(925.30 2200.60) rotate(-45)">
<text x="0.00" y="0.00" font-size="26.90" fill="#000" text-anchor="end" font-weight="normal" textLength="228.2" lengthAdjust="spacingAndGlyphs" id="o46" stroke="#000" stroke-width="0.3">TTX Batch   Rep  </text>
<path d="M763 0L583 0L583 1147Q518 1085 412 1023Q306 961 223 930L223 1104Q373 1175 486 1276Q599 1377 646 1472L763 1472Z" fill="#000" transform="translate(-94.00 0.00) scale(0.01310 -0.01250)" stroke="#000" stroke-width="24.0"/><path d="M763 0L583 0L583 1147Q518 1085 412 1023Q306 961 223 930L223 1104Q373 1175 486 1276Q599 1377 646 1472L763 1472Z" fill="#000" transform="translate(-14.94 0.00) scale(0.01310 -0.01250)" stroke="#000" stroke-width="24.0"/>
</g>
<line x1="1005.70" y1="2169.50" x2="1005.70" y2="2179.50" stroke="#3a3a3a" stroke-width="1.60"/>
<g transform="translate(1011.50 2201.00) rotate(-45)">
<text x="0.00" y="0.00" font-size="26.90" fill="#000" text-anchor="end" font-weight="normal" textLength="228.2" lengthAdjust="spacingAndGlyphs" id="o47" stroke="#000" stroke-width="0.3">TTX Batch 2 Rep  </text>
<path d="M763 0L583 0L583 1147Q518 1085 412 1023Q306 961 223 930L223 1104Q373 1175 486 1276Q599 1377 646 1472L763 1472Z" fill="#000" transform="translate(-14.94 0.00) scale(0.01310 -0.01250)" stroke="#000" stroke-width="24.0"/>
</g>
</svg>
</body></html>
